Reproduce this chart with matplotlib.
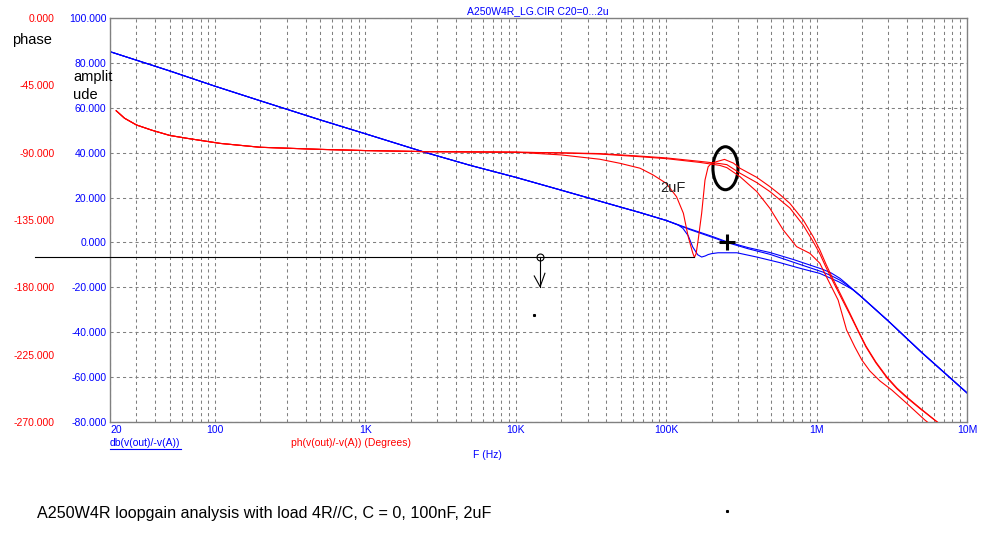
# -*- coding: utf-8 -*-
import matplotlib
matplotlib.use('Agg')
from matplotlib import pyplot as plt
from matplotlib.patches import Ellipse
from matplotlib.lines import Line2D
from matplotlib.ticker import LogLocator, NullFormatter, FormatStrFormatter
from matplotlib.transforms import ScaledTranslation

plt.rcParams['font.family'] = ['Liberation Sans', 'DejaVu Sans']

# amplitude (dB), part shared by all three loads
f_mag_low = [20, 30, 50, 100, 200, 500, 1e3, 2.5e3, 5e3, 1e4, 2e4, 5e4, 6.7e4, 1e5]
mag_low = [85.0, 81.2, 76.4, 69.6, 63.1, 54.6, 48.4, 40.1, 34.3, 29.0, 23.3, 15.7, 13.3, 9.8]

f_mag_c0 = [1.44e5, 2e5, 2.53e5, 3.5e5, 4.9e5, 7e5, 1.1e6, 1.25e6, 1.43e6, 1.58e6,
            1.75e6, 1.94e6, 3e6, 5e6, 1e7]
mag_c0 = [6.0, 2.8, 0.3, -2.3, -4.5, -7.6, -12.0, -13.6, -16.0, -18.4,
          -21.0, -23.6, -35.0, -49.0, -67.0]
mag_100n = [5.7, 2.4, 0.0, -2.8, -5.3, -8.8, -13.2, -14.8, -16.8, -18.8,
            -21.2, -23.7, -35.1, -49.1, -67.1]

f_mag_2u = [1.2e5, 1.29e5, 1.4e5, 1.5e5, 1.62e5, 1.72e5, 1.82e5, 1.9e5, 2e5, 2.21e5,
            2.95e5, 4e5, 5.7e5, 7.74e5, 1.05e6, 1.4e6, 1.74e6, 1.94e6, 3e6, 5e6, 1e7]
mag_2u = [7.8, 6.3, 3.0, -2.0, -5.5, -6.5, -6.0, -5.4, -5.0, -4.6,
          -4.6, -6.5, -9.0, -11.5, -13.8, -17.5, -21.0, -23.6, -35.0, -49.0, -67.0]

# phase (degrees), part shared by all three loads
f_ph_low = [22, 25, 30, 38, 50, 65, 108, 200, 500, 1e3, 2.5e3, 1e4]
ph_low = [-62, -67, -71.5, -75, -78.5, -80.4, -83.8, -86.4, -87.8, -88.6, -89.3, -89.7]

f_ph_c0 = [2e4, 3.6e4, 6.7e4, 1e5, 1.67e5, 2.27e5, 2.53e5, 3.09e5, 4e5, 4.89e5, 6e5,
           7.36e5, 9.02e5, 1.05e6, 1.19e6, 1.39e6, 1.582e6, 1.796e6, 2.0e6, 2.26e6,
           2.64e6, 3.16e6, 3.97e6, 5.25e6, 6.11e6]
ph_c0 = [-90.2, -90.9, -92.7, -94.0, -96.5, -98.5, -100, -106, -116, -127.2, -141.7,
         -152.8, -157.3, -163.9, -175, -188.5, -208.5, -219.9, -228.6, -235.9,
         -242.6, -248.6, -257.5, -268.7, -274]

f_ph_100n = [2e4, 3.6e4, 6.7e4, 1e5, 1.67e5, 2.27e5, 2.53e5, 3.09e5, 4e5, 4.89e5, 5.7e5,
             6.64e5, 8.15e5, 9.49e5, 1.05e6, 1.153e6, 1.283e6, 1.45e6, 1.66e6, 1.881e6,
             2.127e6, 2.478e6, 2.934e6, 3.42e6, 3.98e6, 4.86e6, 6.11e6, 7.13e6]
ph_100n = [-90.1, -90.6, -92.3, -93.5, -95.8, -97.3, -98, -103.7, -110, -116, -121.5,
           -127, -138.5, -149.5, -157.5, -166.5, -176, -186.5, -198, -209,
           -219.8, -230.5, -240.5, -247.8, -253.8, -261, -268.8, -274]

f_ph_2u = [2e4, 3.62e4, 4.92e4, 6.7e4, 8.18e4, 1e5, 1.17e5, 1.3e5, 1.4e5, 1.5e5,
           1.54e5, 1.58e5, 1.63e5, 1.72e5, 1.81e5, 1.9e5, 2e5, 2.16e5, 2.44e5,
           2.8e5, 3.09e5, 4e5, 4.89e5, 5.7e5, 6.64e5, 8.15e5, 9.49e5, 1.05e6,
           1.153e6, 1.283e6, 1.45e6, 1.66e6, 1.881e6, 2.127e6, 2.478e6, 2.934e6,
           3.42e6, 3.98e6, 4.86e6, 6.11e6, 7.13e6]
ph_2u = [-91.5, -94.4, -97.1, -100.4, -104.9, -110.5, -119.4, -130.5, -146.2, -157,
         -160, -157.5, -148.4, -130.5, -108.3, -99.4, -97.1, -96, -94.5,
         -97, -100.4, -106.5, -112.7, -118, -123.9, -135, -146.2, -155,
         -164.4, -174.4, -185.1, -197.1, -208.5, -219.2, -229.9, -239.9,
         -247.3, -253.3, -260.6, -268.7, -274]

x_ticks = [20, 100, 1e3, 1e4, 1e5, 1e6, 1e7]
x_labels = ['20', '100', '1K', '10K', '100K', '1M', '10M']
db_ticks = [-80, -60, -40, -20, 0, 20, 40, 60, 80, 100]
ph_ticks = [-270, -225, -180, -135, -90, -45, 0]

# cursor and hand drawn marks
cursor_line_f = [6.35, 1.54e5]
cursor_line_ph = -160
cursor_f = 14.5e3
cursor_arrow_f = [13.25e3, 14.5e3, 15.6e3]
cursor_arrow_ph = [-172.4, -179.6, -170.6]
dots_f = [13.3e3, 2.53e5]
dots_ph = [-198.5, -329.5]
cross_f, cross_db = 2.53e5, 0.2
ring_f, ring_ph = 2.475e5, -100.4
label_2u_f, label_2u_ph = 1.108e5, -113.6

GRID = '#808080'
BLUE = '#0000ff'
RED = '#ff0000'


def gerar_grafico(name):
    fig = plt.figure(figsize=(9.95, 5.55), dpi=100)
    ax = fig.add_axes([110 / 995, 1 - 422 / 555, 857 / 995, 404 / 555])

    ax.set_xscale('log')
    ax.set_xlim(20, 1e7)
    ax.set_ylim(-80, 100)

    ax.plot(f_mag_low + f_mag_c0, mag_low + mag_c0, color=BLUE, lw=0.8)
    ax.plot(f_mag_low + f_mag_c0, mag_low + mag_100n, color=BLUE, lw=0.8)
    ax.plot(f_mag_low + f_mag_2u, mag_low + mag_2u, color=BLUE, lw=0.8)

    ax.set_xticks(x_ticks)
    ax.set_xticklabels(x_labels)
    ax.xaxis.set_minor_locator(LogLocator(base=10, subs=range(2, 10)))
    ax.xaxis.set_minor_formatter(NullFormatter())
    ax.set_yticks(db_ticks)
    ax.yaxis.set_major_formatter(FormatStrFormatter('%.3f'))
    ax.tick_params(which='both', length=0, labelsize=7.5, labelcolor=BLUE)
    ax.tick_params(axis='y', pad=2.5)
    ax.tick_params(axis='x', pad=2)
    ax.get_xticklabels()[0].set_horizontalalignment('left')

    ax.grid(True, which='both', axis='x', color=GRID, lw=0.75, ls=(0, (3, 3)))
    ax.grid(True, which='major', axis='y', color=GRID, lw=0.75, ls=(0, (3, 3)))
    for sp in ax.spines.values():
        sp.set_color(GRID)
        sp.set_linewidth(1.0)

    # phase on a twin scale, labels further left
    ax2 = ax.twinx()
    ax2.set_ylim(-270, 0)
    ax2.plot(f_ph_low + f_ph_c0, ph_low + ph_c0, color=RED, lw=0.8)
    ax2.plot(f_ph_low + f_ph_100n, ph_low + ph_100n, color=RED, lw=0.8)
    ax2.plot(f_ph_low + f_ph_2u, ph_low + ph_2u, color=RED, lw=0.8)
    ax2.set_yticks(ph_ticks)
    ax2.yaxis.set_major_formatter(FormatStrFormatter('%.3f'))
    ax2.yaxis.tick_left()
    ax2.tick_params(axis='y', length=0, pad=39.6, labelsize=7.5, labelcolor=RED)
    for sp in ax2.spines.values():
        sp.set_visible(False)

    # cursor line, arrow and marks
    ax2.plot(cursor_line_f, [cursor_line_ph] * 2, color='black', lw=0.8, clip_on=False)
    ax2.plot([cursor_f], [cursor_line_ph], 'o', mfc='none', mec='black', ms=5, mew=0.8)
    ax2.plot([cursor_f, cursor_f], [cursor_line_ph, cursor_arrow_ph[1]], color='black', lw=0.8)
    ax2.plot(cursor_arrow_f, cursor_arrow_ph, color='black', lw=0.8)
    ax2.plot(dots_f, dots_ph, 's', color='black', ms=1.2, clip_on=False)
    ax.plot([cross_f], [cross_db], '+', color='black', ms=12, mew=2.2)
    ring = Ellipse((0, 0), 0.25, 0.43, fill=False, ec='black', lw=2.2,
                   transform=fig.dpi_scale_trans + ScaledTranslation(ring_f, ring_ph, ax2.transData))
    ax2.add_patch(ring)
    ax2.text(label_2u_f, label_2u_ph, '2uF', fontsize=10.5, color='#202020',
             ha='center', va='center')

    # texts around the plot
    fig.text(538 / 995, 1 - 14 / 555, 'A250W4R_LG.CIR C20=0...2u', color=BLUE,
             fontsize=7.5, ha='center', va='baseline')
    fig.text(12 / 995, 1 - 44 / 555, 'phase', fontsize=10.5, va='baseline')
    fig.text(73 / 995, 1 - 81 / 555, 'amplit', fontsize=10.5, va='baseline')
    fig.text(73 / 995, 1 - 99 / 555, 'ude', fontsize=10.5, va='baseline')
    t_db = fig.text(110 / 995, 1 - 446 / 555, 'db(v(out)/-v(A))', color=BLUE,
                    fontsize=7.5, va='baseline')
    fig.text(291 / 995, 1 - 446 / 555, 'ph(v(out)/-v(A)) (Degrees)', color=RED,
             fontsize=7.5, va='baseline')
    fig.text(473 / 995, 1 - 458 / 555, 'F (Hz)', color=BLUE, fontsize=7.5, va='baseline')
    fig.text(37 / 995, 1 - 518 / 555,
             'A250W4R loopgain analysis with load 4R//C, C = 0, 100nF, 2uF',
             fontsize=11.6, va='baseline')

    # underline of the amplitude trace name
    fig.canvas.draw()
    bb = t_db.get_window_extent()
    W, H = fig.bbox.width, fig.bbox.height
    y_ul = (bb.y0 - 0.5) / H
    fig.add_artist(Line2D([bb.x0 / W, bb.x1 / W], [y_ul, y_ul], color=BLUE, lw=0.8,
                          transform=fig.transFigure))

    fig.savefig("%s.png" % name, dpi=100)
    plt.close(fig)


if __name__ == '__main__':
    gerar_grafico('out')
